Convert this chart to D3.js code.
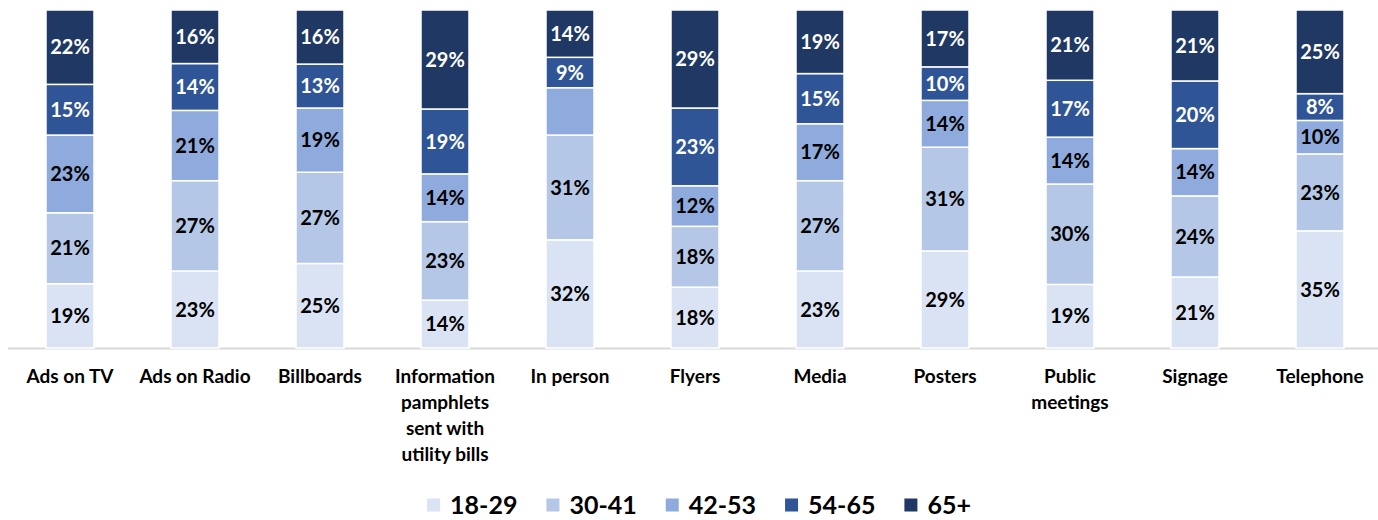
<!DOCTYPE html>
<html>
<head>
<meta charset="utf-8">
<script src="https://cdn.jsdelivr.net/npm/d3@7"></script>
<style>
  html, body { margin: 0; padding: 0; background: #fff; }
  svg { display: block; font-family: Lato, "Open Sans", sans-serif; font-weight: 700; }
</style>
</head>
<body>
<svg id="chart" width="1378" height="520"></svg>
<script>
const categories = ["Ads on TV", "Ads on Radio", "Billboards", "Information pamphlets sent with utility bills", "In person", "Flyers", "Media", "Posters", "Public meetings", "Signage", "Telephone"];
const seriesNames = ["18-29", "30-41", "42-53", "54-65", "65+"];
const age18_29 = [19, 23, 25, 14, 32, 18, 23, 29, 19, 21, 35];
const age30_41 = [21, 27, 27, 23, 31, 18, 27, 31, 30, 24, 23];
const age42_53 = [23, 21, 19, 14, 14, 12, 17, 14, 14, 14, 10];
const age54_65 = [15, 14, 13, 19, 9, 23, 15, 10, 17, 20, 8];
const age65plus = [22, 16, 16, 29, 14, 29, 19, 17, 21, 21, 25];
// labels not shown in the original chart: [seriesIndex, categoryIndex]
const hiddenLabels = [[2, 4]];
const colors = ["#DAE3F3", "#B4C7E7", "#8FAADC", "#2F5597", "#203864"];
const labelColors = ["#000000", "#000000", "#000000", "#FFFFFF", "#FFFFFF"];

const seriesValues = [age18_29, age30_41, age42_53, age54_65, age65plus];
const rows = categories.map((c, i) => {
  const r = { category: c };
  seriesNames.forEach((s, j) => r[s] = seriesValues[j][i]);
  return r;
});

const svg = d3.select("#chart");
const plotTop = 10, plotBottom = 348;

const x = d3.scaleBand().domain(categories).range([7.5, 1382.5]).paddingInner(0.616).paddingOuter(0.308);
const y = d3.scaleLinear().domain([0, 1]).range([plotBottom, plotTop]);

const stack = d3.stack().keys(seriesNames).offset(d3.stackOffsetExpand);
const stacked = stack(rows);

// axis line
svg.append("line")
  .attr("x1", 8).attr("x2", 1378)
  .attr("y1", plotBottom + 0.5).attr("y2", plotBottom + 0.5)
  .attr("stroke", "#D9D9D9").attr("stroke-width", 2);

const layers = svg.append("g").selectAll("g").data(stacked).join("g")
  .attr("fill", (d, i) => colors[i]);

layers.selectAll("rect").data(d => d).join("rect")
  .attr("x", d => x(d.data.category))
  .attr("width", x.bandwidth())
  .attr("y", d => y(d[1]))
  .attr("height", d => y(d[0]) - y(d[1]))
  .attr("stroke", "#fff").attr("stroke-width", 1.5);

const isHidden = (si, ci) => hiddenLabels.some(h => h[0] === si && h[1] === ci);

stacked.forEach((layer, si) => {
  svg.append("g").selectAll("text").data(layer).join("text")
    .filter((d, ci) => !isHidden(si, ci))
    .attr("x", d => x(d.data.category) + x.bandwidth() / 2)
    .attr("y", d => (y(d[0]) + y(d[1])) / 2)
    .attr("dy", "0.36em")
    .attr("text-anchor", "middle")
    .attr("font-size", 20)
    .attr("fill", labelColors[si])
    .text(d => d.data[layer.key] + "%");
});

// category labels with wrapping
const catG = svg.append("g");
const maxW = 120;
categories.forEach(c => {
  const cx = x(c) + x.bandwidth() / 2;
  const t = catG.append("text")
    .attr("x", cx)
    .attr("y", 383)
    .attr("text-anchor", "middle")
    .attr("font-size", 19)
    .attr("fill", "#000");
  const words = c.split(" ");
  let lines = [], line = [];
  const probe = t.append("tspan");
  words.forEach(w => {
    const test = line.concat([w]).join(" ");
    probe.text(test);
    if (probe.node().getComputedTextLength() > maxW && line.length) {
      lines.push(line.join(" "));
      line = [w];
    } else {
      line.push(w);
    }
  });
  lines.push(line.join(" "));
  probe.remove();
  lines.forEach((l, i) => {
    t.append("tspan").attr("x", cx).attr("dy", i === 0 ? 0 : 26).text(l);
  });
});

// legend
const legend = svg.append("g");
let lx = 0;
const sq = 13, sqGap = 10, itemGap = 29;
seriesNames.forEach((s, i) => {
  const g = legend.append("g");
  g.append("rect").attr("x", 0).attr("y", -sq / 2).attr("width", sq).attr("height", sq).attr("fill", colors[i]);
  const tx = g.append("text").attr("x", sq + sqGap).attr("dy", "0.36em").attr("font-size", 25).attr("fill", "#000").text(s);
  const w = sq + sqGap + tx.node().getComputedTextLength();
  g.attr("transform", `translate(${lx},0)`);
  lx += w + itemGap;
});
const totalW = lx - itemGap;
legend.attr("transform", `translate(${699 - totalW / 2},505)`);
</script>
</body>
</html>
